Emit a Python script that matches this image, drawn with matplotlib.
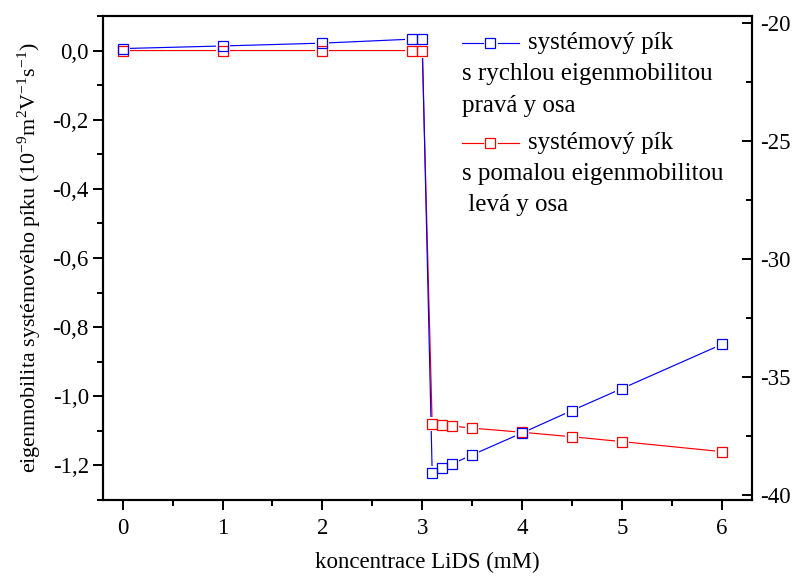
import matplotlib
matplotlib.use("Agg")
import matplotlib.pyplot as plt
from matplotlib.ticker import MultipleLocator, FuncFormatter
from matplotlib.lines import Line2D

plt.rcParams['font.family'] = ['Liberation Serif', 'DejaVu Serif']
plt.rcParams['mathtext.fontset'] = 'custom'
plt.rcParams['mathtext.rm'] = 'Liberation Serif'
plt.rcParams['axes.unicode_minus'] = False

# Data
x_fast = [0, 1, 2, 2.9, 3.0, 3.1, 3.2, 3.3, 3.5, 4, 4.5, 5, 6]
y_fast = [-21.08, -20.97, -20.85, -20.68, -20.68, -39.05, -38.86, -38.67,
          -38.29, -37.36, -36.41, -35.48, -33.61]          # right axis
x_slow = [0, 1, 2, 2.9, 3.0, 3.1, 3.2, 3.3, 3.5, 4, 4.5, 5, 6]
y_slow = [0.0, 0.0, 0.0, 0.0, 0.0, -1.080, -1.084, -1.086, -1.092,
          -1.104, -1.117, -1.131, -1.160]                   # left axis

legend_fast = ["systémový pík", "s rychlou eigenmobilitou", "pravá y osa"]
legend_slow = ["systémový pík", "s pomalou eigenmobilitou", " levá y osa"]
xlabel = "koncentrace LiDS (mM)"
ylabel = (r"eigenmobilita systémového píku (10$^{\mathregular{-9}}$m$^{\mathregular{2}}$"
          r"V$^{\mathregular{-1}}$s$^{\mathregular{-1}}$)")

BLUE = '#0000FF'
RED = '#FF0000'
FS = 16.5
LFS = 18

fig = plt.figure(figsize=(7.95, 5.77), dpi=100)
ax1 = fig.add_axes([0.1292, 0.1334, 0.9455 - 0.1292, 0.9723 - 0.1334])
ax2 = ax1.twinx()

ax1.set_xlim(-0.2, 6.3)
ax1.set_ylim(-1.3, 0.1)
ax2.set_ylim(-40.2, -19.7)

ms = 7.2
mew = 0.9
lw = 0.85

# draw everything on ax2 (top), red data via ax1's transform
def draw(ax_trans, xs, ys, color):
    ax2.plot(xs, ys, '-', color=color, lw=lw, transform=ax_trans, zorder=1)
    ax2.plot(xs, ys, 's', ms=ms + 3.0, mfc='white', mec='white', mew=0,
             ls='none', transform=ax_trans, zorder=2)

def draw_markers(ax_trans, xs, ys, color):
    ax2.plot(xs, ys, 's', ms=ms, mfc='none', mec=color, mew=mew,
             ls='none', transform=ax_trans, zorder=3)

draw(ax1.transData, x_slow, y_slow, RED)
draw(ax2.transData, x_fast, y_fast, BLUE)
draw_markers(ax1.transData, x_slow, y_slow, RED)
draw_markers(ax2.transData, x_fast, y_fast, BLUE)

# ticks
ax1.xaxis.set_major_locator(MultipleLocator(1))
ax1.xaxis.set_minor_locator(MultipleLocator(0.5))
ax1.yaxis.set_major_locator(MultipleLocator(0.2))
ax1.yaxis.set_minor_locator(MultipleLocator(0.1))
ax2.yaxis.set_major_locator(MultipleLocator(5))
ax2.yaxis.set_minor_locator(MultipleLocator(2.5))

ax1.yaxis.set_major_formatter(FuncFormatter(lambda v, p: ("%.1f" % v).replace('.', ',').replace('-0,0', '0,0')))
ax1.xaxis.set_major_formatter(FuncFormatter(lambda v, p: "%d" % round(v)))
ax2.yaxis.set_major_formatter(FuncFormatter(lambda v, p: "%d" % round(v)))

ax1.tick_params(axis='both', which='major', direction='out', length=7, width=1.4,
                labelsize=FS, top=False, right=False)
ax1.tick_params(axis='both', which='minor', direction='out', length=4.5, width=1.4,
                top=False, right=False)
ax2.tick_params(axis='y', which='major', direction='in', length=7, width=1.4,
                labelsize=FS, left=False, right=True)
ax2.tick_params(axis='y', which='minor', direction='in', length=4.5, width=1.4,
                left=False, right=True)
ax1.tick_params(axis='x', pad=6)
ax1.tick_params(axis='y', pad=3)
ax2.tick_params(axis='y', pad=6)

for ax in (ax1, ax2):
    for s in ax.spines.values():
        s.set_linewidth(1.5)

ax1.set_xlabel(xlabel, fontsize=FS, labelpad=9)
ax1.set_ylabel(ylabel, fontsize=15.8, labelpad=7)

# legend drawn manually
def legend_entry(y_top, color, lines):
    xa, xb, xm = 0.553, 0.642, 0.5975
    ax2.add_line(Line2D([xa, xm - 0.012], [y_top, y_top], transform=ax2.transAxes,
                        color=color, lw=lw, zorder=4))
    ax2.add_line(Line2D([xm + 0.012, xb], [y_top, y_top], transform=ax2.transAxes,
                        color=color, lw=lw, zorder=4))
    ax2.add_line(Line2D([xm], [y_top], transform=ax2.transAxes, marker='s', ms=ms,
                        mfc='none', mec=color, mew=mew, ls='none', zorder=4))
    ax2.text(0.655, y_top, lines[0], transform=ax2.transAxes, fontsize=LFS,
             va='center', ha='left')
    for i, t in enumerate(lines[1:], start=1):
        ax2.text(xa, y_top - i * 0.0645, t, transform=ax2.transAxes, fontsize=LFS,
                 va='center', ha='left')

legend_entry(0.944, BLUE, legend_fast)
legend_entry(0.7376, RED, legend_slow)

fig.savefig("out.png", dpi=100)
